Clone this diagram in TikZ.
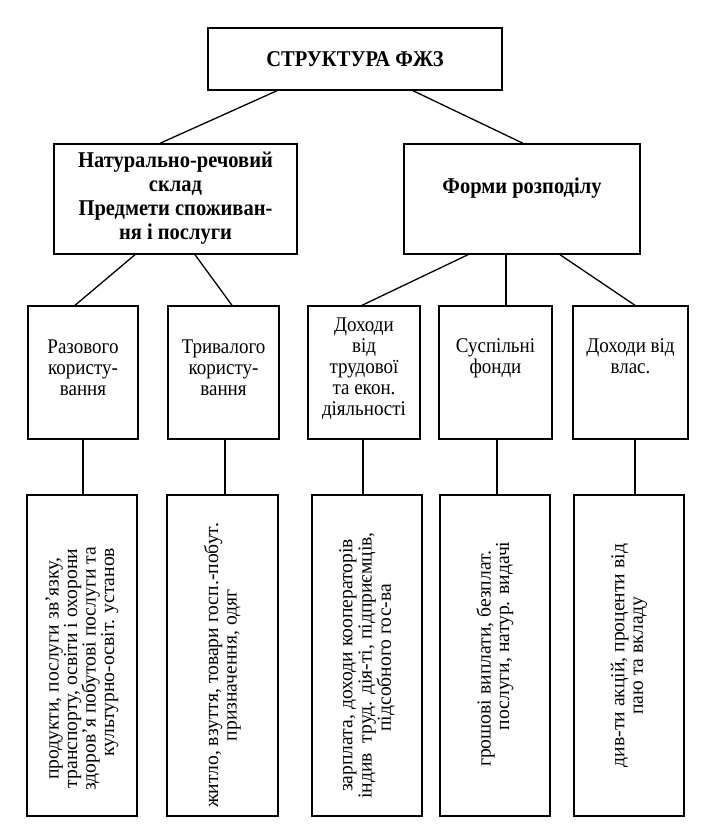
\documentclass[tikz,border=0pt]{standalone}
\usepackage{fontspec}
\setmainfont{Liberation Serif}
\usepackage{graphicx}
\newcommand\tallt[1]{\scalebox{1}[1.1]{#1}}
\newcommand\longt[1]{\rotatebox{90}{\scalebox{1.09}[1.1]{#1}}}
\newcommand\upby[2]{\raisebox{#1}[\height][\depth]{#2}}
% centred stack of lines (separated by \cr) with fixed baseline distance #1, extra space #2 after
\newcommand\stk[3]{\hbox{\vbox{\baselineskip=#1\lineskiplimit=-100pt\lineskip=0pt
  \halign{\hfil##\hfil\cr#3\crcr}}\hskip#2}}
\begin{document}
\begin{tikzpicture}[x=1pt,y=-1pt,
  cellbox/.style={draw, line width=1.4pt, inner sep=0pt, align=center},
  headfont/.style={font=\fontsize{20.5}{21.8}\selectfont\bfseries},
  midfont/.style={font=\fontsize{19}{19.2}\selectfont},
  lowfont/.style={font=\fontsize{18}{16.8}\selectfont},
  link/.style={line width=1.3pt}]
\useasboundingbox (0,0) rectangle (715,836);
\fill[white] (0,0) rectangle (715,836);

% level 1
\node[cellbox, headfont, minimum width=294pt, minimum height=62pt] (top) at (355,59)
  {\tallt{СТРУКТУРА ФЖЗ}};

% level 2
\node[cellbox, headfont, minimum width=243pt, minimum height=110pt] (nat) at (175.5,199)
  {\tallt{\begin{tabular}{@{}c@{}}Натурально-речовий\\склад\\Предмети споживан-\\ня і послуги\end{tabular}}};
\node[cellbox, headfont, minimum width=236pt, minimum height=110pt] (form) at (522,199)
  {\upby{11pt}{\tallt{Форми розподілу}}};

% level 3
\node[cellbox, midfont, minimum width=110pt, minimum height=133pt] (a3) at (83,372.5)
  {\upby{2pt}{\tallt{\begin{tabular}{@{}c@{}}Разового\\користу-\\вання\end{tabular}}}};
\node[cellbox, midfont, minimum width=111pt, minimum height=133pt] (b3) at (223.5,372.5)
  {\upby{2pt}{\tallt{\begin{tabular}{@{}c@{}}Тривалого\\користу-\\вання\end{tabular}}}};
\node[cellbox, midfont, minimum width=112pt, minimum height=133pt] (c3) at (364,372.5)
  {\upby{3pt}{\tallt{\begin{tabular}{@{}c@{}}Доходи\\від\\трудової\\та екон.\\діяльності\end{tabular}}}};
\node[cellbox, midfont, minimum width=113pt, minimum height=133pt] (d3) at (495.5,372.5)
  {\upby{14pt}{\tallt{\begin{tabular}{@{}c@{}}Суспільні\\фонди\end{tabular}}}};
\node[cellbox, midfont, minimum width=115pt, minimum height=133pt] (e3) at (630.5,372.5)
  {\upby{14pt}{\tallt{\begin{tabular}{@{}c@{}}Доходи від\\влас.\end{tabular}}}};

% level 4
\node[cellbox, lowfont, minimum width=110pt, minimum height=321pt] (a4) at (82,655.5)
  {\longt{\stk{16.8pt}{24pt}{продукти, послуги зв'язку,\cr транспорту, освіти і охорони\cr здоров'я побутові послуги та\cr\hskip30pt культурно-освіт. установ}}};
\node[cellbox, lowfont, minimum width=111pt, minimum height=321pt] (b4) at (222.5,655.5)
  {\longt{\stk{16.8pt}{18pt}{житло, взуття, товари госп.-побут.\cr призначення, одяг}}};
\node[cellbox, lowfont, minimum width=110pt, minimum height=321pt] (c4) at (367,655.5)
  {\longt{\stk{17.5pt}{18pt}{зарплата, доходи кооператорів\cr індив\ \ труд. дія-ті, підприємців,\cr\hskip14pt підсобного гос-ва}}};
\node[cellbox, lowfont, minimum width=110pt, minimum height=321pt] (d4) at (495,655.5)
  {\longt{\stk{16.8pt}{6pt}{грошові виплати, безплат.\cr\hskip42pt послуги, натур. видачі}}};
\node[cellbox, lowfont, minimum width=110pt, minimum height=321pt] (e4) at (629,655.5)
  {\longt{\stk{16.8pt}{0pt}{див-ти акцій, проценти від\cr паю та вкладу}}};

% connectors
\draw[link] ([xshift=-78pt]top.south) -- ([xshift=-15.5pt]nat.north);
\draw[link] ([xshift=58pt]top.south) -- ([xshift=1pt]form.north);

\draw[link] ([xshift=-40.5pt]nat.south) -- ([xshift=-8pt]a3.north);
\draw[link] ([xshift=19.5pt]nat.south) -- ([xshift=8.5pt]b3.north);

\draw[link] ([xshift=-54pt]form.south) -- ([xshift=-2pt]c3.north);
\draw[link] ([xshift=-16pt]form.south) -- ([xshift=10.5pt]d3.north);
\draw[link] ([xshift=38pt]form.south) -- ([xshift=4.5pt]e3.north);

\draw[link] (a3.south) -- ([xshift=1pt]a4.north);
\draw[link] ([xshift=1.5pt]b3.south) -- ([xshift=2.5pt]b4.north);
\draw[link] ([xshift=-1pt]c3.south) -- ([xshift=-4pt]c4.north);
\draw[link] ([xshift=1.5pt]d3.south) -- ([xshift=2pt]d4.north);
\draw[link] ([xshift=4.5pt]e3.south) -- ([xshift=6pt]e4.north);
\end{tikzpicture}
\end{document}
